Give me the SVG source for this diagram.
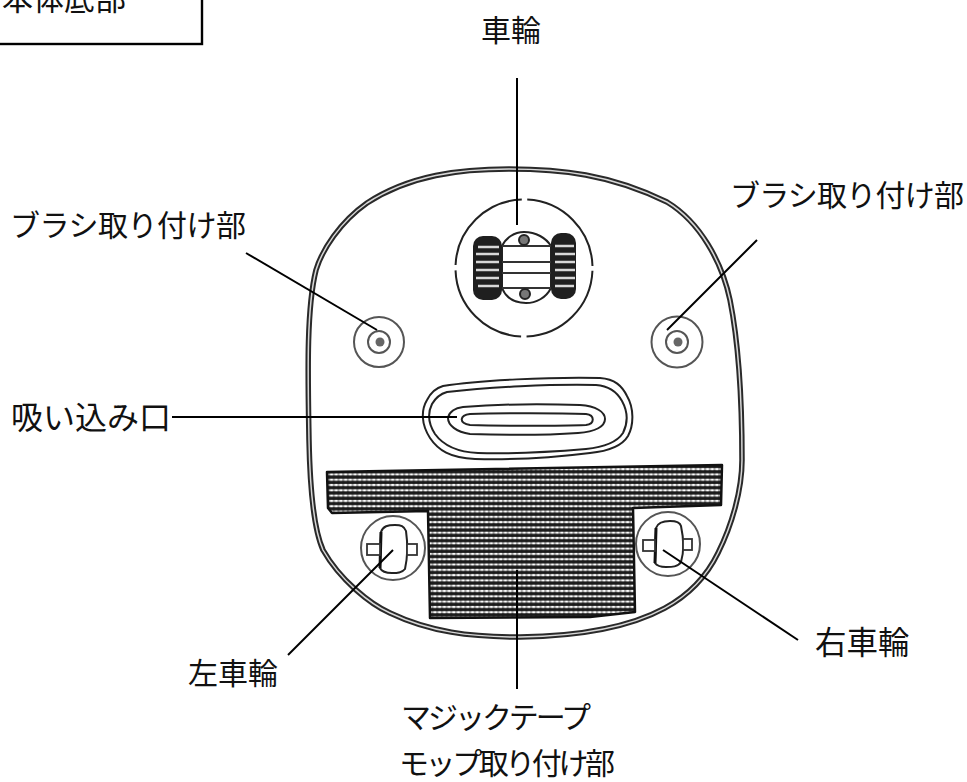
<svg xmlns="http://www.w3.org/2000/svg" width="967" height="782" viewBox="0 0 967 782">
<style>
text{font-family:"Noto Sans CJK JP","Noto Sans",sans-serif;font-size:30px;fill:#111}
.o{fill:none;stroke:#222;stroke-width:2}
.w{fill:#fff;stroke:#222;stroke-width:2}
.l{fill:none;stroke:#000;stroke-width:2}
.ring{fill:none;stroke:#555;stroke-width:2}
.stub{fill:#fff;stroke:#333;stroke-width:1.800}
.edge{fill:none;stroke:#111;stroke-width:3}
</style>
<defs>
<pattern id="mesh" width="4.700" height="5.300" patternUnits="userSpaceOnUse">
<rect width="4.700" height="5.300" fill="#1a1a1a"/>
<rect y="1.700" width="4.700" height="2" fill="#a8a8a8"/>
<rect x="1.300" y="1.700" width="2.400" height="2" fill="#fff"/>
</pattern>
<path id="shell" d="M509 169C560 169 610 174 667 202C700 222 722 262 730 300C738 340 742 400 742 460C742 490 732 525 718 553C700 590 660 635 520 637C470 637 430 632 390 613C370 604 340 580 323 550C314 530 310 490 309 440C308 380 306 310 316 270C322 250 340 222 367 203C410 175 460 169 509 169Z"/>
</defs>
<g id="label-box">
<rect x="-10" y="-10" width="212" height="54" fill="#fff" stroke="#000" stroke-width="2.400"/>
<text x="2" y="10" style="font-size:31px">本体底部</text>
</g>
<g id="body">
<use href="#shell" fill="none" stroke="#2a2a2a" stroke-width="5.500"/>
<use href="#shell" fill="none" stroke="#d8d8d8" stroke-width="1.500"/>
</g>
<g id="front-wheel">
<circle cx="524" cy="268" r="68.500" fill="none" stroke="#222" stroke-width="2" stroke-dasharray="102 5.600" stroke-dashoffset="-2.800"/>
<path class="w" d="M502 246C506 238 514 232 524 232C536 232 546 238 551 246V288C546 298 536 303 526 303C514 303 506 298 502 288Z"/>
<path fill="none" stroke="#333" stroke-width="1.800" d="M501 246H552M501 262H552M501 273H552M501 288H552"/>
<rect x="473" y="236" width="29" height="64" rx="10" fill="#1f1f1f"/>
<rect x="551" y="233" width="25" height="66" rx="10" fill="#1f1f1f"/>
<path stroke="#d8d8d8" stroke-width="2.500" d="M478 247H499M476 254H499M476 262H499M476 270H499M476 278H499M478 286H499M555 246H574M555 254H575M555 262H575M555 270H575M555 278H575M555 286H574"/>
<circle cx="524" cy="240" r="5" fill="#777" stroke="#222" stroke-width="2"/>
<circle cx="525" cy="294" r="5" fill="#777" stroke="#222" stroke-width="2"/>
</g>
<g id="brush-left">
<circle class="ring" cx="379" cy="342" r="25"/>
<circle class="ring" cx="379" cy="342" r="11"/>
<circle cx="380" cy="342" r="4.500" fill="#666"/>
</g>
<g id="brush-right">
<circle class="ring" cx="677" cy="342" r="25.500"/>
<circle class="ring" cx="677" cy="342" r="11"/>
<circle cx="678" cy="342" r="4.500" fill="#666"/>
</g>
<g id="intake">
<path class="o" d="M443 386C480 380 550 377 600 378C615 379 622 386 627 396C634 408 634 425 628 436C622 446 610 451 590 453C550 458 510 460 475 459C450 458 438 450 430 438C421 424 421 410 427 400C431 392 436 388 443 386Z"/>
<path class="o" d="M447 392C490 387 550 384 596 385C610 386 617 392 622 401C628 412 628 423 623 433C617 442 606 447 586 449C550 452 510 454 478 453C455 452 443 445 435 434C428 423 428 412 432 404C436 397 440 394 447 392Z"/>
<path class="o" d="M463 407C500 404 550 404 580 405C596 406 605 412 605 419C605 426 596 432 578 433C550 435 500 435 470 434C456 432 448 425 448 418C449 412 455 408 463 407Z"/>
<path class="o" d="M470 414C500 413 560 413 586 414C595 415 595 424 586 425C560 426 500 426 470 425C458 423 460 415 470 414Z"/>
</g>
<g id="mop-tape">
<path fill="url(#mesh)" stroke="#111" stroke-width="2.500" stroke-linejoin="round" d="M327 472L722 465L721 505L633 508L635 612L590 617L430 618L428 511L332 513L328 508Z"/>
</g>
<g id="wheel-left">
<circle cx="393" cy="548" r="32" fill="#fff" stroke="#555" stroke-width="2"/>
<path class="w" d="M381 532C383 526 388 525 395 525C401 525 404 526 406 531C408 545 407 560 405 569C402 573 397 573 392 573C386 573 382 572 380 568Z"/>
<path class="edge" d="M381 532L380 568"/>
<rect class="stub" x="367" y="544" width="13" height="11"/>
<rect class="stub" x="407" y="544" width="10" height="11"/>
</g>
<g id="wheel-right">
<circle cx="668" cy="544" r="32" fill="#fff" stroke="#555" stroke-width="2"/>
<path class="w" d="M656 528C658 522 664 521 670 521C676 521 680 522 681 526C684 540 684 552 681 562C678 567 672 567 666 567C660 567 657 566 655 563Z"/>
<path class="edge" d="M656 528L655 563"/>
<rect class="stub" x="643" y="540" width="12" height="11"/>
<rect class="stub" x="683" y="539" width="9" height="11"/>
</g>
<g id="connectors">
<path class="l" d="M517 78V225"/>
<path class="l" d="M246 253L377 330"/>
<path class="l" d="M757 240L667 330"/>
<path class="l" d="M172 417H457"/>
<path class="l" d="M288 655L393 550"/>
<path class="l" d="M798 640L663 550"/>
<path class="l" d="M517 570V689"/>
</g>
<g id="labels">
<text x="481" y="41">車輪</text>
<text x="10" y="236" textLength="236">ブラシ取り付け部</text>
<text x="730" y="206" textLength="234">ブラシ取り付け部</text>
<text x="11" y="429" textLength="160" style="font-size:32px">吸い込み口</text>
<text x="815" y="654" style="font-size:31.500px">右車輪</text>
<text x="188" y="684">左車輪</text>
<text x="401" y="728" textLength="190">マジックテープ</text>
<text x="399" y="774" textLength="216">モップ取り付け部</text>
</g>
</svg>
